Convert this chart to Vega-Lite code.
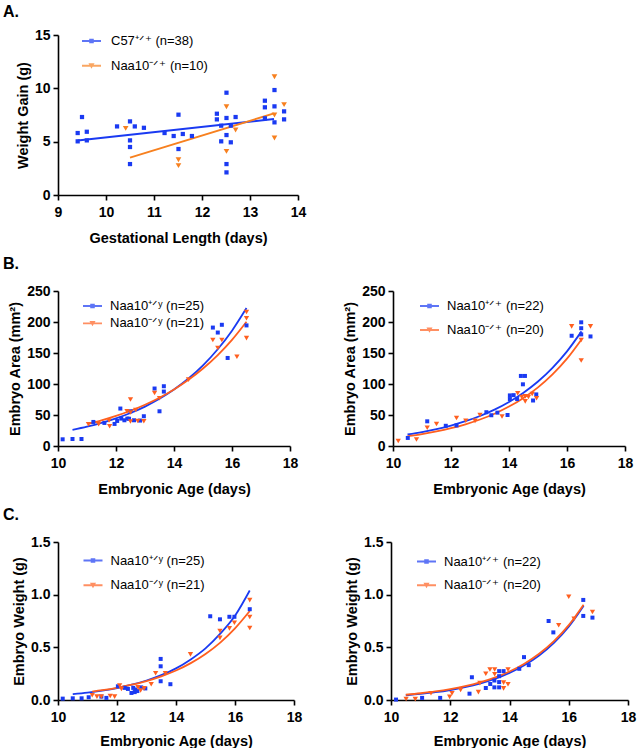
{
 "$schema": "https://vega.github.io/schema/vega-lite/v6.json",
 "background": "white",
 "padding": {"left": 3, "top": 4, "right": 2, "bottom": 0},
 "config": {
  "view": {"stroke": null},
  "font": "Liberation Sans",
  "axis": {"labelFont": "Liberation Sans", "labelFontSize": 14, "labelFontWeight": "bold", "labelColor": "#000", "titleFont": "Liberation Sans", "titleFontSize": 14.5, "titleFontWeight": "bold", "titleColor": "#000", "domainColor": "#000", "domainWidth": 1.6, "tickColor": "#000", "tickWidth": 1.6, "tickSize": 5, "labelPadding": 3, "titlePadding": 4, "grid": false, "labelFlush": false, "labelOverlap": false},
  "axisX": {"labelPadding": 5, "titlePadding": 12},
  "legend": {"labelFont": "Liberation Sans", "labelFontSize": 13, "labelColor": "#000", "padding": 0, "symbolStrokeWidth": 0, "symbolSize": 361, "labelLimit": 300},
  "title": {"font": "Liberation Sans", "fontSize": 16, "fontWeight": "bold", "color": "#000", "anchor": "start", "frame": "group", "dx": -55, "offset": 8}
 },
 "resolve": {"scale": {"color": "independent", "shape": "independent"}},
 "spacing": 11,
 "vconcat": [
  {
   "title": {"text": "A."},
   "width": 240, "height": 160,
   "encoding": {
    "x": {"field": "x", "type": "quantitative", "scale": {"domain": [9, 14], "nice": false, "zero": false}, "axis": {"values": [9, 10, 11, 12, 13, 14], "title": "Gestational Length (days)"}},
    "y": {"field": "y", "type": "quantitative", "scale": {"domain": [0, 15], "nice": false}, "axis": {"values": [0, 5, 10, 15], "title": "Weight Gain (g)"}}
   },
   "layer": [
    {"data": {"name": "Afit"}, "transform": [{"filter": {"field": "g", "equal": "C57⁺ᐟ⁺ (n=38)"}}], "mark": {"type": "line", "color": "#1a3af2", "strokeWidth": 2}},
    {"data": {"name": "Afit"}, "transform": [{"filter": {"field": "g", "equal": "Naa10⁻ᐟ⁺ (n=10)"}}], "mark": {"type": "line", "color": "#f7801f", "strokeWidth": 2}},
    {"data": {"name": "A"}, "transform": [{"filter": {"field": "g", "equal": "C57⁺ᐟ⁺ (n=38)"}}], "mark": {"type": "point", "shape": "square", "filled": true, "size": 18, "color": "#1a3af2", "opacity": 1}},
    {"data": {"name": "A"}, "transform": [{"filter": {"field": "g", "equal": "Naa10⁻ᐟ⁺ (n=10)"}}], "mark": {"type": "point", "shape": "triangle-down", "filled": true, "size": 32, "color": "#f7801f", "opacity": 1}},
    {"data": {"name": "A"}, "transform": [{"filter": "false"}], "mark": {"type": "point", "filled": true},
     "encoding": {
      "color": {"field": "g", "type": "nominal", "scale": {"domain": ["C57⁺ᐟ⁺ (n=38)", "Naa10⁻ᐟ⁺ (n=10)"], "range": ["#1a3af2", "#f7801f"]}, "legend": {"orient": "none", "legendX": 24, "legendY": -3.5, "title": null, "rowPadding": 7.8, "labelOffset": 10}},
      "shape": {"field": "g", "type": "nominal", "scale": {"domain": ["C57⁺ᐟ⁺ (n=38)", "Naa10⁻ᐟ⁺ (n=10)"], "range": ["M-1,-0.1H1V0.1H-1Z M-0.24,-0.24H0.24V0.24H-0.24Z", "M-1,-0.1H1V0.1H-1Z M-0.32,-0.26H0.32L0,0.3Z"]}, "legend": {"orient": "none", "legendX": 24, "legendY": -3.5, "title": null, "rowPadding": 7.8, "labelOffset": 10}}
     }}
   ]
  },
  {
   "title": {"text": "B.", "offset": 12},
   "resolve": {"scale": {"color": "independent", "shape": "independent"}},
   "spacing": 44,
   "hconcat": [
    {
     "width": 232, "height": 155,
     "encoding": {
      "x": {"field": "x", "type": "quantitative", "scale": {"domain": [10, 18], "nice": false, "zero": false}, "axis": {"values": [10, 12, 14, 16, 18], "title": "Embryonic Age (days)"}},
      "y": {"field": "y", "type": "quantitative", "scale": {"domain": [0, 250], "nice": false}, "axis": {"values": [0, 50, 100, 150, 200, 250], "title": "Embryo Area (mm²)"}}
     },
     "layer": [
      {"data": {"name": "BLfit"}, "transform": [{"filter": {"field": "g", "equal": "Naa10⁺ᐟʸ (n=25)"}}], "mark": {"type": "line", "color": "#1a3af2", "strokeWidth": 1.8, "interpolate": "monotone"}},
      {"data": {"name": "BLfit"}, "transform": [{"filter": {"field": "g", "equal": "Naa10⁻ᐟʸ (n=21)"}}], "mark": {"type": "line", "color": "#ff5f1f", "strokeWidth": 1.8, "interpolate": "monotone"}},
      {"data": {"name": "BL"}, "transform": [{"filter": {"field": "g", "equal": "Naa10⁺ᐟʸ (n=25)"}}], "mark": {"type": "point", "shape": "square", "filled": true, "size": 16, "color": "#1a3af2", "opacity": 1}},
      {"data": {"name": "BL"}, "transform": [{"filter": {"field": "g", "equal": "Naa10⁻ᐟʸ (n=21)"}}], "mark": {"type": "point", "shape": "triangle-down", "filled": true, "size": 28, "color": "#ff5f1f", "opacity": 1}},
      {"data": {"name": "BL"}, "transform": [{"filter": "false"}], "mark": {"type": "point", "filled": true},
       "encoding": {
        "color": {"field": "g", "type": "nominal", "scale": {"domain": ["Naa10⁺ᐟʸ (n=25)", "Naa10⁻ᐟʸ (n=21)"], "range": ["#1a3af2", "#ff5f1f"]}, "legend": {"orient": "none", "legendX": 25, "legendY": 5.5, "title": null, "rowPadding": 0.4, "labelOffset": 8}},
        "shape": {"field": "g", "type": "nominal", "scale": {"domain": ["Naa10⁺ᐟʸ (n=25)", "Naa10⁻ᐟʸ (n=21)"], "range": ["M-1,-0.1H1V0.1H-1Z M-0.24,-0.24H0.24V0.24H-0.24Z", "M-1,-0.1H1V0.1H-1Z M-0.32,-0.26H0.32L0,0.3Z"]}, "legend": {"orient": "none", "legendX": 25, "legendY": 5.5, "title": null, "rowPadding": 0.4, "labelOffset": 8}}
       }}
     ]
    },
    {
     "width": 232, "height": 155,
     "encoding": {
      "x": {"field": "x", "type": "quantitative", "scale": {"domain": [10, 18], "nice": false, "zero": false}, "axis": {"values": [10, 12, 14, 16, 18], "title": "Embryonic Age (days)"}},
      "y": {"field": "y", "type": "quantitative", "scale": {"domain": [0, 250], "nice": false}, "axis": {"values": [0, 50, 100, 150, 200, 250], "title": "Embryo Area (mm²)"}}
     },
     "layer": [
      {"data": {"name": "BRfit"}, "transform": [{"filter": {"field": "g", "equal": "Naa10⁺ᐟ⁺ (n=22)"}}], "mark": {"type": "line", "color": "#1a3af2", "strokeWidth": 1.8, "interpolate": "monotone"}},
      {"data": {"name": "BRfit"}, "transform": [{"filter": {"field": "g", "equal": "Naa10⁻ᐟ⁺ (n=20)"}}], "mark": {"type": "line", "color": "#ff5f1f", "strokeWidth": 1.8, "interpolate": "monotone"}},
      {"data": {"name": "BR"}, "transform": [{"filter": {"field": "g", "equal": "Naa10⁺ᐟ⁺ (n=22)"}}], "mark": {"type": "point", "shape": "square", "filled": true, "size": 16, "color": "#1a3af2", "opacity": 1}},
      {"data": {"name": "BR"}, "transform": [{"filter": {"field": "g", "equal": "Naa10⁻ᐟ⁺ (n=20)"}}], "mark": {"type": "point", "shape": "triangle-down", "filled": true, "size": 28, "color": "#ff5f1f", "opacity": 1}},
      {"data": {"name": "BR"}, "transform": [{"filter": "false"}], "mark": {"type": "point", "filled": true},
       "encoding": {
        "color": {"field": "g", "type": "nominal", "scale": {"domain": ["Naa10⁺ᐟ⁺ (n=22)", "Naa10⁻ᐟ⁺ (n=20)"], "range": ["#1a3af2", "#ff5f1f"]}, "legend": {"orient": "none", "legendX": 27, "legendY": 5.5, "title": null, "rowPadding": 7, "labelOffset": 8}},
        "shape": {"field": "g", "type": "nominal", "scale": {"domain": ["Naa10⁺ᐟ⁺ (n=22)", "Naa10⁻ᐟ⁺ (n=20)"], "range": ["M-1,-0.1H1V0.1H-1Z M-0.24,-0.24H0.24V0.24H-0.24Z", "M-1,-0.1H1V0.1H-1Z M-0.32,-0.26H0.32L0,0.3Z"]}, "legend": {"orient": "none", "legendX": 27, "legendY": 5.5, "title": null, "rowPadding": 7, "labelOffset": 8}}
       }}
     ]
    }
   ]
  },
  {
   "title": {"text": "C.", "offset": 12},
   "resolve": {"scale": {"color": "independent", "shape": "independent"}},
   "spacing": 42,
   "hconcat": [
    {
     "width": 236, "height": 158,
     "encoding": {
      "x": {"field": "x", "type": "quantitative", "scale": {"domain": [10, 18], "nice": false, "zero": false}, "axis": {"values": [10, 12, 14, 16, 18], "title": "Embryonic Age (days)", "titlePadding": 10}},
      "y": {"field": "y", "type": "quantitative", "scale": {"domain": [0, 1.5], "nice": false}, "axis": {"values": [0, 0.5, 1, 1.5], "format": ".1f", "title": "Embryo Weight (g)"}}
     },
     "layer": [
      {"data": {"name": "CLfit"}, "transform": [{"filter": {"field": "g", "equal": "Naa10⁺ᐟʸ (n=25)"}}], "mark": {"type": "line", "color": "#1a3af2", "strokeWidth": 1.8, "interpolate": "monotone"}},
      {"data": {"name": "CLfit"}, "transform": [{"filter": {"field": "g", "equal": "Naa10⁻ᐟʸ (n=21)"}}], "mark": {"type": "line", "color": "#ff5f1f", "strokeWidth": 1.8, "interpolate": "monotone"}},
      {"data": {"name": "CL"}, "transform": [{"filter": {"field": "g", "equal": "Naa10⁺ᐟʸ (n=25)"}}], "mark": {"type": "point", "shape": "square", "filled": true, "size": 16, "color": "#1a3af2", "opacity": 1}},
      {"data": {"name": "CL"}, "transform": [{"filter": {"field": "g", "equal": "Naa10⁻ᐟʸ (n=21)"}}], "mark": {"type": "point", "shape": "triangle-down", "filled": true, "size": 28, "color": "#ff5f1f", "opacity": 1}},
      {"data": {"name": "CL"}, "transform": [{"filter": "false"}], "mark": {"type": "point", "filled": true},
       "encoding": {
        "color": {"field": "g", "type": "nominal", "scale": {"domain": ["Naa10⁺ᐟʸ (n=25)", "Naa10⁻ᐟʸ (n=21)"], "range": ["#1a3af2", "#ff5f1f"]}, "legend": {"orient": "none", "legendX": 25.5, "legendY": 9, "title": null, "rowPadding": 7.8, "labelOffset": 8}},
        "shape": {"field": "g", "type": "nominal", "scale": {"domain": ["Naa10⁺ᐟʸ (n=25)", "Naa10⁻ᐟʸ (n=21)"], "range": ["M-1,-0.1H1V0.1H-1Z M-0.24,-0.24H0.24V0.24H-0.24Z", "M-1,-0.1H1V0.1H-1Z M-0.32,-0.26H0.32L0,0.3Z"]}, "legend": {"orient": "none", "legendX": 25.5, "legendY": 9, "title": null, "rowPadding": 7.8, "labelOffset": 8}}
       }}
     ]
    },
    {
     "width": 237, "height": 158,
     "encoding": {
      "x": {"field": "x", "type": "quantitative", "scale": {"domain": [10, 18], "nice": false, "zero": false}, "axis": {"values": [10, 12, 14, 16, 18], "title": "Embryonic Age (days)", "titlePadding": 10}},
      "y": {"field": "y", "type": "quantitative", "scale": {"domain": [0, 1.5], "nice": false}, "axis": {"values": [0, 0.5, 1, 1.5], "format": ".1f", "title": "Embryo Weight (g)"}}
     },
     "layer": [
      {"data": {"name": "CRfit"}, "transform": [{"filter": {"field": "g", "equal": "Naa10⁺ᐟ⁺ (n=22)"}}], "mark": {"type": "line", "color": "#1a3af2", "strokeWidth": 1.8, "interpolate": "monotone"}},
      {"data": {"name": "CRfit"}, "transform": [{"filter": {"field": "g", "equal": "Naa10⁻ᐟ⁺ (n=20)"}}], "mark": {"type": "line", "color": "#ff5f1f", "strokeWidth": 1.8, "interpolate": "monotone"}},
      {"data": {"name": "CR"}, "transform": [{"filter": {"field": "g", "equal": "Naa10⁺ᐟ⁺ (n=22)"}}], "mark": {"type": "point", "shape": "square", "filled": true, "size": 16, "color": "#1a3af2", "opacity": 1}},
      {"data": {"name": "CR"}, "transform": [{"filter": {"field": "g", "equal": "Naa10⁻ᐟ⁺ (n=20)"}}], "mark": {"type": "point", "shape": "triangle-down", "filled": true, "size": 28, "color": "#ff5f1f", "opacity": 1}},
      {"data": {"name": "CR"}, "transform": [{"filter": "false"}], "mark": {"type": "point", "filled": true},
       "encoding": {
        "color": {"field": "g", "type": "nominal", "scale": {"domain": ["Naa10⁺ᐟ⁺ (n=22)", "Naa10⁻ᐟ⁺ (n=20)"], "range": ["#1a3af2", "#ff5f1f"]}, "legend": {"orient": "none", "legendX": 26, "legendY": 10, "title": null, "rowPadding": 6.8, "labelOffset": 8}},
        "shape": {"field": "g", "type": "nominal", "scale": {"domain": ["Naa10⁺ᐟ⁺ (n=22)", "Naa10⁻ᐟ⁺ (n=20)"], "range": ["M-1,-0.1H1V0.1H-1Z M-0.24,-0.24H0.24V0.24H-0.24Z", "M-1,-0.1H1V0.1H-1Z M-0.32,-0.26H0.32L0,0.3Z"]}, "legend": {"orient": "none", "legendX": 26, "legendY": 10, "title": null, "rowPadding": 6.8, "labelOffset": 8}}
       }}
     ]
    }
   ]
  }
 ],
 "datasets": {
  "A": [
   {"x": 9.41, "y": 5.81, "g": "C57⁺ᐟ⁺ (n=38)"}, {"x": 9.41, "y": 5.03, "g": "C57⁺ᐟ⁺ (n=38)"}, {"x": 9.5, "y": 7.31, "g": "C57⁺ᐟ⁺ (n=38)"}, {"x": 9.6, "y": 5.93, "g": "C57⁺ᐟ⁺ (n=38)"}, {"x": 9.6, "y": 5.12, "g": "C57⁺ᐟ⁺ (n=38)"},
   {"x": 10.23, "y": 6.43, "g": "C57⁺ᐟ⁺ (n=38)"}, {"x": 10.5, "y": 6.9, "g": "C57⁺ᐟ⁺ (n=38)"}, {"x": 10.5, "y": 5.12, "g": "C57⁺ᐟ⁺ (n=38)"}, {"x": 10.5, "y": 4.5, "g": "C57⁺ᐟ⁺ (n=38)"}, {"x": 10.5, "y": 2.9, "g": "C57⁺ᐟ⁺ (n=38)"}, {"x": 10.6, "y": 6.43, "g": "C57⁺ᐟ⁺ (n=38)"}, {"x": 10.79, "y": 6.3, "g": "C57⁺ᐟ⁺ (n=38)"},
   {"x": 11.22, "y": 5.81, "g": "C57⁺ᐟ⁺ (n=38)"}, {"x": 11.41, "y": 5.53, "g": "C57⁺ᐟ⁺ (n=38)"}, {"x": 11.51, "y": 7.53, "g": "C57⁺ᐟ⁺ (n=38)"}, {"x": 11.51, "y": 4.31, "g": "C57⁺ᐟ⁺ (n=38)"}, {"x": 11.6, "y": 5.72, "g": "C57⁺ᐟ⁺ (n=38)"}, {"x": 11.79, "y": 5.53, "g": "C57⁺ᐟ⁺ (n=38)"},
   {"x": 12.31, "y": 7.62, "g": "C57⁺ᐟ⁺ (n=38)"}, {"x": 12.31, "y": 7.09, "g": "C57⁺ᐟ⁺ (n=38)"}, {"x": 12.4, "y": 6.5, "g": "C57⁺ᐟ⁺ (n=38)"}, {"x": 12.4, "y": 5.03, "g": "C57⁺ᐟ⁺ (n=38)"}, {"x": 12.51, "y": 9.59, "g": "C57⁺ᐟ⁺ (n=38)"}, {"x": 12.51, "y": 7.22, "g": "C57⁺ᐟ⁺ (n=38)"}, {"x": 12.51, "y": 5.62, "g": "C57⁺ᐟ⁺ (n=38)"}, {"x": 12.51, "y": 2.9, "g": "C57⁺ᐟ⁺ (n=38)"}, {"x": 12.51, "y": 2.12, "g": "C57⁺ᐟ⁺ (n=38)"}, {"x": 12.6, "y": 6.5, "g": "C57⁺ᐟ⁺ (n=38)"}, {"x": 12.6, "y": 4.94, "g": "C57⁺ᐟ⁺ (n=38)"}, {"x": 12.7, "y": 7.31, "g": "C57⁺ᐟ⁺ (n=38)"},
   {"x": 13.31, "y": 8.84, "g": "C57⁺ᐟ⁺ (n=38)"}, {"x": 13.31, "y": 8.22, "g": "C57⁺ᐟ⁺ (n=38)"}, {"x": 13.31, "y": 7.19, "g": "C57⁺ᐟ⁺ (n=38)"}, {"x": 13.51, "y": 9.84, "g": "C57⁺ᐟ⁺ (n=38)"}, {"x": 13.51, "y": 8.31, "g": "C57⁺ᐟ⁺ (n=38)"}, {"x": 13.51, "y": 6.81, "g": "C57⁺ᐟ⁺ (n=38)"}, {"x": 13.71, "y": 7.84, "g": "C57⁺ᐟ⁺ (n=38)"}, {"x": 13.71, "y": 7.09, "g": "C57⁺ᐟ⁺ (n=38)"},
   {"x": 10.41, "y": 6.25, "g": "Naa10⁻ᐟ⁺ (n=10)"}, {"x": 11.51, "y": 3.31, "g": "Naa10⁻ᐟ⁺ (n=10)"}, {"x": 11.51, "y": 2.75, "g": "Naa10⁻ᐟ⁺ (n=10)"}, {"x": 12.51, "y": 8.28, "g": "Naa10⁻ᐟ⁺ (n=10)"}, {"x": 12.51, "y": 4.09, "g": "Naa10⁻ᐟ⁺ (n=10)"}, {"x": 12.7, "y": 6.09, "g": "Naa10⁻ᐟ⁺ (n=10)"}, {"x": 13.51, "y": 11.09, "g": "Naa10⁻ᐟ⁺ (n=10)"}, {"x": 13.51, "y": 7.5, "g": "Naa10⁻ᐟ⁺ (n=10)"}, {"x": 13.51, "y": 5.34, "g": "Naa10⁻ᐟ⁺ (n=10)"}, {"x": 13.71, "y": 8.47, "g": "Naa10⁻ᐟ⁺ (n=10)"}
  ],
  "Afit": [
   {"x": 9.41, "y": 5.12, "g": "C57⁺ᐟ⁺ (n=38)"}, {"x": 13.5, "y": 7.12, "g": "C57⁺ᐟ⁺ (n=38)"},
   {"x": 10.5, "y": 3.5, "g": "Naa10⁻ᐟ⁺ (n=10)"}, {"x": 13.5, "y": 7.65, "g": "Naa10⁻ᐟ⁺ (n=10)"}
  ],
  "BL": [
   {"x": 10.16, "y": 10.8, "g": "Naa10⁺ᐟʸ (n=25)"}, {"x": 10.5, "y": 11.3, "g": "Naa10⁺ᐟʸ (n=25)"}, {"x": 10.81, "y": 11.3, "g": "Naa10⁺ᐟʸ (n=25)"}, {"x": 11.22, "y": 38.8, "g": "Naa10⁺ᐟʸ (n=25)"}, {"x": 11.6, "y": 37.2, "g": "Naa10⁺ᐟʸ (n=25)"}, {"x": 11.95, "y": 35.6, "g": "Naa10⁺ᐟʸ (n=25)"}, {"x": 12.04, "y": 40.4, "g": "Naa10⁺ᐟʸ (n=25)"}, {"x": 12.15, "y": 60.4, "g": "Naa10⁺ᐟʸ (n=25)"}, {"x": 12.18, "y": 44.2, "g": "Naa10⁺ᐟʸ (n=25)"}, {"x": 12.29, "y": 41.5, "g": "Naa10⁺ᐟʸ (n=25)"}, {"x": 12.39, "y": 44.2, "g": "Naa10⁺ᐟʸ (n=25)"}, {"x": 12.45, "y": 44, "g": "Naa10⁺ᐟʸ (n=25)"}, {"x": 12.5, "y": 56, "g": "Naa10⁺ᐟʸ (n=25)"}, {"x": 12.62, "y": 41.5, "g": "Naa10⁺ᐟʸ (n=25)"}, {"x": 12.83, "y": 41, "g": "Naa10⁺ᐟʸ (n=25)"}, {"x": 12.96, "y": 48, "g": "Naa10⁺ᐟʸ (n=25)"}, {"x": 13.33, "y": 92.7, "g": "Naa10⁺ᐟʸ (n=25)"}, {"x": 13.5, "y": 56, "g": "Naa10⁺ᐟʸ (n=25)"}, {"x": 13.65, "y": 96.4, "g": "Naa10⁺ᐟʸ (n=25)"}, {"x": 13.65, "y": 87.8, "g": "Naa10⁺ᐟʸ (n=25)"}, {"x": 15.34, "y": 191, "g": "Naa10⁺ᐟʸ (n=25)"}, {"x": 15.51, "y": 183, "g": "Naa10⁺ᐟʸ (n=25)"}, {"x": 15.65, "y": 195.5, "g": "Naa10⁺ᐟʸ (n=25)"}, {"x": 15.85, "y": 142, "g": "Naa10⁺ᐟʸ (n=25)"}, {"x": 16.5, "y": 194.5, "g": "Naa10⁺ᐟʸ (n=25)"},
   {"x": 11.05, "y": 35, "g": "Naa10⁻ᐟʸ (n=21)"}, {"x": 11.4, "y": 35, "g": "Naa10⁻ᐟʸ (n=21)"}, {"x": 11.76, "y": 41, "g": "Naa10⁻ᐟʸ (n=21)"}, {"x": 11.78, "y": 31.8, "g": "Naa10⁻ᐟʸ (n=21)"}, {"x": 12.38, "y": 56, "g": "Naa10⁻ᐟʸ (n=21)"}, {"x": 12.5, "y": 75, "g": "Naa10⁻ᐟʸ (n=21)"}, {"x": 12.5, "y": 54, "g": "Naa10⁻ᐟʸ (n=21)"}, {"x": 12.5, "y": 39.4, "g": "Naa10⁻ᐟʸ (n=21)"}, {"x": 12.68, "y": 58, "g": "Naa10⁻ᐟʸ (n=21)"}, {"x": 12.75, "y": 40.4, "g": "Naa10⁻ᐟʸ (n=21)"}, {"x": 12.96, "y": 40, "g": "Naa10⁻ᐟʸ (n=21)"}, {"x": 13.33, "y": 85.6, "g": "Naa10⁻ᐟʸ (n=21)"}, {"x": 13.5, "y": 77, "g": "Naa10⁻ᐟʸ (n=21)"}, {"x": 14.5, "y": 107, "g": "Naa10⁻ᐟʸ (n=21)"}, {"x": 15.34, "y": 171, "g": "Naa10⁻ᐟʸ (n=21)"}, {"x": 15.51, "y": 158, "g": "Naa10⁻ᐟʸ (n=21)"}, {"x": 15.65, "y": 171, "g": "Naa10⁻ᐟʸ (n=21)"}, {"x": 16.17, "y": 144, "g": "Naa10⁻ᐟʸ (n=21)"}, {"x": 16.5, "y": 216, "g": "Naa10⁻ᐟʸ (n=21)"}, {"x": 16.5, "y": 206, "g": "Naa10⁻ᐟʸ (n=21)"}, {"x": 16.5, "y": 174, "g": "Naa10⁻ᐟʸ (n=21)"}
  ],
  "BLfit": [
   {"x": 10.5, "y": 26, "g": "Naa10⁺ᐟʸ (n=25)"}, {"x": 11, "y": 31.1, "g": "Naa10⁺ᐟʸ (n=25)"}, {"x": 11.5, "y": 37.2, "g": "Naa10⁺ᐟʸ (n=25)"}, {"x": 12, "y": 44.5, "g": "Naa10⁺ᐟʸ (n=25)"}, {"x": 12.5, "y": 53.2, "g": "Naa10⁺ᐟʸ (n=25)"}, {"x": 13, "y": 63.6, "g": "Naa10⁺ᐟʸ (n=25)"}, {"x": 13.5, "y": 76.1, "g": "Naa10⁺ᐟʸ (n=25)"}, {"x": 14, "y": 91, "g": "Naa10⁺ᐟʸ (n=25)"}, {"x": 14.5, "y": 108.8, "g": "Naa10⁺ᐟʸ (n=25)"}, {"x": 15, "y": 130, "g": "Naa10⁺ᐟʸ (n=25)"}, {"x": 15.5, "y": 155.6, "g": "Naa10⁺ᐟʸ (n=25)"}, {"x": 16, "y": 186, "g": "Naa10⁺ᐟʸ (n=25)"}, {"x": 16.5, "y": 222.5, "g": "Naa10⁺ᐟʸ (n=25)"},
   {"x": 11.05, "y": 36, "g": "Naa10⁻ᐟʸ (n=21)"}, {"x": 11.5, "y": 41.5, "g": "Naa10⁻ᐟʸ (n=21)"}, {"x": 12, "y": 48.6, "g": "Naa10⁻ᐟʸ (n=21)"}, {"x": 12.5, "y": 56.9, "g": "Naa10⁻ᐟʸ (n=21)"}, {"x": 13, "y": 66.6, "g": "Naa10⁻ᐟʸ (n=21)"}, {"x": 13.5, "y": 77.9, "g": "Naa10⁻ᐟʸ (n=21)"}, {"x": 14, "y": 91.2, "g": "Naa10⁻ᐟʸ (n=21)"}, {"x": 14.5, "y": 106.8, "g": "Naa10⁻ᐟʸ (n=21)"}, {"x": 15, "y": 125, "g": "Naa10⁻ᐟʸ (n=21)"}, {"x": 15.5, "y": 146.3, "g": "Naa10⁻ᐟʸ (n=21)"}, {"x": 16, "y": 171.3, "g": "Naa10⁻ᐟʸ (n=21)"}, {"x": 16.5, "y": 200.5, "g": "Naa10⁻ᐟʸ (n=21)"}
  ],
  "BR": [
   {"x": 10.51, "y": 13, "g": "Naa10⁺ᐟ⁺ (n=22)"}, {"x": 11.18, "y": 39.8, "g": "Naa10⁺ᐟ⁺ (n=22)"}, {"x": 11.82, "y": 32.6, "g": "Naa10⁺ᐟ⁺ (n=22)"}, {"x": 12.19, "y": 33.2, "g": "Naa10⁺ᐟ⁺ (n=22)"}, {"x": 13.22, "y": 54.5, "g": "Naa10⁺ᐟ⁺ (n=22)"}, {"x": 13.39, "y": 49.6, "g": "Naa10⁺ᐟ⁺ (n=22)"}, {"x": 13.6, "y": 53.8, "g": "Naa10⁺ᐟ⁺ (n=22)"}, {"x": 13.95, "y": 50, "g": "Naa10⁺ᐟ⁺ (n=22)"}, {"x": 14.03, "y": 75.7, "g": "Naa10⁺ᐟ⁺ (n=22)"}, {"x": 14.03, "y": 81.6, "g": "Naa10⁺ᐟ⁺ (n=22)"}, {"x": 14.16, "y": 82, "g": "Naa10⁺ᐟ⁺ (n=22)"}, {"x": 14.28, "y": 75.7, "g": "Naa10⁺ᐟ⁺ (n=22)"}, {"x": 14.41, "y": 113, "g": "Naa10⁺ᐟ⁺ (n=22)"}, {"x": 14.55, "y": 113, "g": "Naa10⁺ᐟ⁺ (n=22)"}, {"x": 14.48, "y": 99.5, "g": "Naa10⁺ᐟ⁺ (n=22)"}, {"x": 14.83, "y": 73.4, "g": "Naa10⁺ᐟ⁺ (n=22)"}, {"x": 14.94, "y": 83.2, "g": "Naa10⁺ᐟ⁺ (n=22)"}, {"x": 16.16, "y": 177.8, "g": "Naa10⁺ᐟ⁺ (n=22)"}, {"x": 16.49, "y": 199.5, "g": "Naa10⁺ᐟ⁺ (n=22)"}, {"x": 16.49, "y": 190, "g": "Naa10⁺ᐟ⁺ (n=22)"}, {"x": 16.49, "y": 180, "g": "Naa10⁺ᐟ⁺ (n=22)"}, {"x": 16.81, "y": 176.7, "g": "Naa10⁺ᐟ⁺ (n=22)"},
   {"x": 10.18, "y": 8.2, "g": "Naa10⁻ᐟ⁺ (n=20)"}, {"x": 10.81, "y": 10.4, "g": "Naa10⁻ᐟ⁺ (n=20)"}, {"x": 11.18, "y": 29.4, "g": "Naa10⁻ᐟ⁺ (n=20)"}, {"x": 11.5, "y": 35.4, "g": "Naa10⁻ᐟ⁺ (n=20)"}, {"x": 12.19, "y": 45.2, "g": "Naa10⁻ᐟ⁺ (n=20)"}, {"x": 12.51, "y": 40.8, "g": "Naa10⁻ᐟ⁺ (n=20)"}, {"x": 12.83, "y": 40.5, "g": "Naa10⁻ᐟ⁺ (n=20)"}, {"x": 13.0, "y": 50, "g": "Naa10⁻ᐟ⁺ (n=20)"}, {"x": 13.76, "y": 47.5, "g": "Naa10⁻ᐟ⁺ (n=20)"}, {"x": 14.3, "y": 85, "g": "Naa10⁻ᐟ⁺ (n=20)"}, {"x": 14.44, "y": 79, "g": "Naa10⁻ᐟ⁺ (n=20)"}, {"x": 14.56, "y": 80, "g": "Naa10⁻ᐟ⁺ (n=20)"}, {"x": 14.56, "y": 72, "g": "Naa10⁻ᐟ⁺ (n=20)"}, {"x": 14.67, "y": 79, "g": "Naa10⁻ᐟ⁺ (n=20)"}, {"x": 14.8, "y": 84, "g": "Naa10⁻ᐟ⁺ (n=20)"}, {"x": 14.95, "y": 77, "g": "Naa10⁻ᐟ⁺ (n=20)"}, {"x": 16.16, "y": 193, "g": "Naa10⁻ᐟ⁺ (n=20)"}, {"x": 16.81, "y": 193, "g": "Naa10⁻ᐟ⁺ (n=20)"}, {"x": 16.49, "y": 171, "g": "Naa10⁻ᐟ⁺ (n=20)"}, {"x": 16.49, "y": 138, "g": "Naa10⁻ᐟ⁺ (n=20)"}
  ],
  "BRfit": [
   {"x": 10.5, "y": 18.6, "g": "Naa10⁺ᐟ⁺ (n=22)"}, {"x": 11, "y": 22.5, "g": "Naa10⁺ᐟ⁺ (n=22)"}, {"x": 11.5, "y": 27.3, "g": "Naa10⁺ᐟ⁺ (n=22)"}, {"x": 12, "y": 33, "g": "Naa10⁺ᐟ⁺ (n=22)"}, {"x": 12.5, "y": 40, "g": "Naa10⁺ᐟ⁺ (n=22)"}, {"x": 13, "y": 48.4, "g": "Naa10⁺ᐟ⁺ (n=22)"}, {"x": 13.5, "y": 58.6, "g": "Naa10⁺ᐟ⁺ (n=22)"}, {"x": 14, "y": 71, "g": "Naa10⁺ᐟ⁺ (n=22)"}, {"x": 14.5, "y": 86, "g": "Naa10⁺ᐟ⁺ (n=22)"}, {"x": 15, "y": 104.1, "g": "Naa10⁺ᐟ⁺ (n=22)"}, {"x": 15.5, "y": 126.1, "g": "Naa10⁺ᐟ⁺ (n=22)"}, {"x": 16, "y": 152.7, "g": "Naa10⁺ᐟ⁺ (n=22)"}, {"x": 16.5, "y": 184.9, "g": "Naa10⁺ᐟ⁺ (n=22)"},
   {"x": 10.5, "y": 15.8, "g": "Naa10⁻ᐟ⁺ (n=20)"}, {"x": 11, "y": 19.3, "g": "Naa10⁻ᐟ⁺ (n=20)"}, {"x": 11.5, "y": 23.5, "g": "Naa10⁻ᐟ⁺ (n=20)"}, {"x": 12, "y": 28.7, "g": "Naa10⁻ᐟ⁺ (n=20)"}, {"x": 12.5, "y": 35, "g": "Naa10⁻ᐟ⁺ (n=20)"}, {"x": 13, "y": 42.7, "g": "Naa10⁻ᐟ⁺ (n=20)"}, {"x": 13.5, "y": 52.1, "g": "Naa10⁻ᐟ⁺ (n=20)"}, {"x": 14, "y": 63.6, "g": "Naa10⁻ᐟ⁺ (n=20)"}, {"x": 14.5, "y": 77.6, "g": "Naa10⁻ᐟ⁺ (n=20)"}, {"x": 15, "y": 94.6, "g": "Naa10⁻ᐟ⁺ (n=20)"}, {"x": 15.5, "y": 115.5, "g": "Naa10⁻ᐟ⁺ (n=20)"}, {"x": 16, "y": 140.9, "g": "Naa10⁻ᐟ⁺ (n=20)"}, {"x": 16.5, "y": 171.9, "g": "Naa10⁻ᐟ⁺ (n=20)"}
  ],
  "CL": [
   {"x": 10.16, "y": 0.013, "g": "Naa10⁺ᐟʸ (n=25)"}, {"x": 10.5, "y": 0.016, "g": "Naa10⁺ᐟʸ (n=25)"}, {"x": 10.8, "y": 0.016, "g": "Naa10⁺ᐟʸ (n=25)"}, {"x": 11.04, "y": 0.026, "g": "Naa10⁺ᐟʸ (n=25)"}, {"x": 11.47, "y": 0.032, "g": "Naa10⁺ᐟʸ (n=25)"}, {"x": 11.64, "y": 0.02, "g": "Naa10⁺ᐟʸ (n=25)"}, {"x": 12.03, "y": 0.13, "g": "Naa10⁺ᐟʸ (n=25)"}, {"x": 12.26, "y": 0.115, "g": "Naa10⁺ᐟʸ (n=25)"}, {"x": 12.37, "y": 0.105, "g": "Naa10⁺ᐟʸ (n=25)"}, {"x": 12.49, "y": 0.067, "g": "Naa10⁺ᐟʸ (n=25)"}, {"x": 12.55, "y": 0.115, "g": "Naa10⁺ᐟʸ (n=25)"}, {"x": 12.62, "y": 0.1, "g": "Naa10⁺ᐟʸ (n=25)"}, {"x": 12.6, "y": 0.075, "g": "Naa10⁺ᐟʸ (n=25)"}, {"x": 12.69, "y": 0.085, "g": "Naa10⁺ᐟʸ (n=25)"}, {"x": 12.82, "y": 0.12, "g": "Naa10⁺ᐟʸ (n=25)"}, {"x": 12.96, "y": 0.11, "g": "Naa10⁺ᐟʸ (n=25)"}, {"x": 13.48, "y": 0.39, "g": "Naa10⁺ᐟʸ (n=25)"}, {"x": 13.48, "y": 0.32, "g": "Naa10⁺ᐟʸ (n=25)"}, {"x": 13.48, "y": 0.178, "g": "Naa10⁺ᐟʸ (n=25)"}, {"x": 13.81, "y": 0.15, "g": "Naa10⁺ᐟʸ (n=25)"}, {"x": 15.16, "y": 0.795, "g": "Naa10⁺ᐟʸ (n=25)"}, {"x": 15.49, "y": 0.766, "g": "Naa10⁺ᐟʸ (n=25)"}, {"x": 15.81, "y": 0.79, "g": "Naa10⁺ᐟʸ (n=25)"}, {"x": 15.98, "y": 0.79, "g": "Naa10⁺ᐟʸ (n=25)"}, {"x": 16.5, "y": 0.862, "g": "Naa10⁺ᐟʸ (n=25)"},
   {"x": 11.16, "y": 0.045, "g": "Naa10⁻ᐟʸ (n=21)"}, {"x": 11.32, "y": 0.032, "g": "Naa10⁻ᐟʸ (n=21)"}, {"x": 11.47, "y": 0.032, "g": "Naa10⁻ᐟʸ (n=21)"}, {"x": 11.77, "y": 0.038, "g": "Naa10⁻ᐟʸ (n=21)"}, {"x": 11.92, "y": 0.032, "g": "Naa10⁻ᐟʸ (n=21)"}, {"x": 12.09, "y": 0.137, "g": "Naa10⁻ᐟʸ (n=21)"}, {"x": 12.15, "y": 0.105, "g": "Naa10⁻ᐟʸ (n=21)"}, {"x": 12.71, "y": 0.12, "g": "Naa10⁻ᐟʸ (n=21)"}, {"x": 12.8, "y": 0.09, "g": "Naa10⁻ᐟʸ (n=21)"}, {"x": 12.92, "y": 0.11, "g": "Naa10⁻ᐟʸ (n=21)"}, {"x": 13.16, "y": 0.15, "g": "Naa10⁻ᐟʸ (n=21)"}, {"x": 13.31, "y": 0.254, "g": "Naa10⁻ᐟʸ (n=21)"}, {"x": 13.64, "y": 0.254, "g": "Naa10⁻ᐟʸ (n=21)"}, {"x": 14.49, "y": 0.433, "g": "Naa10⁻ᐟʸ (n=21)"}, {"x": 15.49, "y": 0.655, "g": "Naa10⁻ᐟʸ (n=21)"}, {"x": 15.49, "y": 0.59, "g": "Naa10⁻ᐟʸ (n=21)"}, {"x": 15.81, "y": 0.68, "g": "Naa10⁻ᐟʸ (n=21)"}, {"x": 15.98, "y": 0.734, "g": "Naa10⁻ᐟʸ (n=21)"}, {"x": 16.5, "y": 0.948, "g": "Naa10⁻ᐟʸ (n=21)"}, {"x": 16.5, "y": 0.788, "g": "Naa10⁻ᐟʸ (n=21)"}, {"x": 16.5, "y": 0.683, "g": "Naa10⁻ᐟʸ (n=21)"}
  ],
  "CLfit": [
   {"x": 10.5, "y": 0.055, "g": "Naa10⁺ᐟʸ (n=25)"}, {"x": 11, "y": 0.07, "g": "Naa10⁺ᐟʸ (n=25)"}, {"x": 11.5, "y": 0.089, "g": "Naa10⁺ᐟʸ (n=25)"}, {"x": 12, "y": 0.113, "g": "Naa10⁺ᐟʸ (n=25)"}, {"x": 12.5, "y": 0.145, "g": "Naa10⁺ᐟʸ (n=25)"}, {"x": 13, "y": 0.185, "g": "Naa10⁺ᐟʸ (n=25)"}, {"x": 13.5, "y": 0.236, "g": "Naa10⁺ᐟʸ (n=25)"}, {"x": 14, "y": 0.3, "g": "Naa10⁺ᐟʸ (n=25)"}, {"x": 14.5, "y": 0.385, "g": "Naa10⁺ᐟʸ (n=25)"}, {"x": 15, "y": 0.49, "g": "Naa10⁺ᐟʸ (n=25)"}, {"x": 15.5, "y": 0.63, "g": "Naa10⁺ᐟʸ (n=25)"}, {"x": 16, "y": 0.8, "g": "Naa10⁺ᐟʸ (n=25)"}, {"x": 16.5, "y": 1.04, "g": "Naa10⁺ᐟʸ (n=25)"},
   {"x": 11.16, "y": 0.08, "g": "Naa10⁻ᐟʸ (n=21)"}, {"x": 11.5, "y": 0.093, "g": "Naa10⁻ᐟʸ (n=21)"}, {"x": 12, "y": 0.116, "g": "Naa10⁻ᐟʸ (n=21)"}, {"x": 12.5, "y": 0.145, "g": "Naa10⁻ᐟʸ (n=21)"}, {"x": 13, "y": 0.18, "g": "Naa10⁻ᐟʸ (n=21)"}, {"x": 13.5, "y": 0.225, "g": "Naa10⁻ᐟʸ (n=21)"}, {"x": 14, "y": 0.28, "g": "Naa10⁻ᐟʸ (n=21)"}, {"x": 14.5, "y": 0.35, "g": "Naa10⁻ᐟʸ (n=21)"}, {"x": 15, "y": 0.437, "g": "Naa10⁻ᐟʸ (n=21)"}, {"x": 15.5, "y": 0.545, "g": "Naa10⁻ᐟʸ (n=21)"}, {"x": 16, "y": 0.68, "g": "Naa10⁻ᐟʸ (n=21)"}, {"x": 16.5, "y": 0.845, "g": "Naa10⁻ᐟʸ (n=21)"}
  ],
  "CR": [
   {"x": 10.17, "y": 0.004, "g": "Naa10⁺ᐟ⁺ (n=22)"}, {"x": 11.05, "y": 0.02, "g": "Naa10⁺ᐟ⁺ (n=22)"}, {"x": 11.66, "y": 0.02, "g": "Naa10⁺ᐟ⁺ (n=22)"}, {"x": 12.65, "y": 0.06, "g": "Naa10⁺ᐟ⁺ (n=22)"}, {"x": 12.73, "y": 0.216, "g": "Naa10⁺ᐟ⁺ (n=22)"}, {"x": 13.2, "y": 0.114, "g": "Naa10⁺ᐟ⁺ (n=22)"}, {"x": 13.35, "y": 0.152, "g": "Naa10⁺ᐟ⁺ (n=22)"}, {"x": 13.49, "y": 0.185, "g": "Naa10⁺ᐟ⁺ (n=22)"}, {"x": 13.49, "y": 0.12, "g": "Naa10⁺ᐟ⁺ (n=22)"}, {"x": 13.65, "y": 0.274, "g": "Naa10⁺ᐟ⁺ (n=22)"}, {"x": 13.65, "y": 0.226, "g": "Naa10⁺ᐟ⁺ (n=22)"}, {"x": 13.65, "y": 0.17, "g": "Naa10⁺ᐟ⁺ (n=22)"}, {"x": 13.65, "y": 0.12, "g": "Naa10⁺ᐟ⁺ (n=22)"}, {"x": 13.8, "y": 0.274, "g": "Naa10⁺ᐟ⁺ (n=22)"}, {"x": 14.33, "y": 0.296, "g": "Naa10⁺ᐟ⁺ (n=22)"}, {"x": 14.49, "y": 0.407, "g": "Naa10⁺ᐟ⁺ (n=22)"}, {"x": 14.65, "y": 0.331, "g": "Naa10⁺ᐟ⁺ (n=22)"}, {"x": 15.32, "y": 0.75, "g": "Naa10⁺ᐟ⁺ (n=22)"}, {"x": 15.48, "y": 0.642, "g": "Naa10⁺ᐟ⁺ (n=22)"}, {"x": 16.49, "y": 0.95, "g": "Naa10⁺ᐟ⁺ (n=22)"}, {"x": 16.49, "y": 0.798, "g": "Naa10⁺ᐟ⁺ (n=22)"}, {"x": 16.8, "y": 0.782, "g": "Naa10⁺ᐟ⁺ (n=22)"},
   {"x": 10.51, "y": 0.01, "g": "Naa10⁻ᐟ⁺ (n=20)"}, {"x": 10.82, "y": 0.008, "g": "Naa10⁻ᐟ⁺ (n=20)"}, {"x": 11.35, "y": 0.064, "g": "Naa10⁻ᐟ⁺ (n=20)"}, {"x": 11.98, "y": 0.03, "g": "Naa10⁻ᐟ⁺ (n=20)"}, {"x": 12.06, "y": 0.064, "g": "Naa10⁻ᐟ⁺ (n=20)"}, {"x": 12.35, "y": 0.095, "g": "Naa10⁻ᐟ⁺ (n=20)"}, {"x": 12.95, "y": 0.075, "g": "Naa10⁻ᐟ⁺ (n=20)"}, {"x": 13.0, "y": 0.16, "g": "Naa10⁻ᐟ⁺ (n=20)"}, {"x": 13.2, "y": 0.25, "g": "Naa10⁻ᐟ⁺ (n=20)"}, {"x": 13.34, "y": 0.29, "g": "Naa10⁻ᐟ⁺ (n=20)"}, {"x": 13.5, "y": 0.29, "g": "Naa10⁻ᐟ⁺ (n=20)"}, {"x": 13.5, "y": 0.245, "g": "Naa10⁻ᐟ⁺ (n=20)"}, {"x": 13.8, "y": 0.165, "g": "Naa10⁻ᐟ⁺ (n=20)"}, {"x": 13.8, "y": 0.11, "g": "Naa10⁻ᐟ⁺ (n=20)"}, {"x": 13.95, "y": 0.15, "g": "Naa10⁻ᐟ⁺ (n=20)"}, {"x": 13.95, "y": 0.29, "g": "Naa10⁻ᐟ⁺ (n=20)"}, {"x": 15.66, "y": 0.71, "g": "Naa10⁻ᐟ⁺ (n=20)"}, {"x": 16.0, "y": 0.98, "g": "Naa10⁻ᐟ⁺ (n=20)"}, {"x": 16.18, "y": 0.77, "g": "Naa10⁻ᐟ⁺ (n=20)"}, {"x": 16.8, "y": 0.835, "g": "Naa10⁻ᐟ⁺ (n=20)"}
  ],
  "CRfit": [
   {"x": 10.5, "y": 0.045, "g": "Naa10⁺ᐟ⁺ (n=22)"}, {"x": 11, "y": 0.058, "g": "Naa10⁺ᐟ⁺ (n=22)"}, {"x": 11.5, "y": 0.074, "g": "Naa10⁺ᐟ⁺ (n=22)"}, {"x": 12, "y": 0.095, "g": "Naa10⁺ᐟ⁺ (n=22)"}, {"x": 12.5, "y": 0.122, "g": "Naa10⁺ᐟ⁺ (n=22)"}, {"x": 13, "y": 0.156, "g": "Naa10⁺ᐟ⁺ (n=22)"}, {"x": 13.5, "y": 0.2, "g": "Naa10⁺ᐟ⁺ (n=22)"}, {"x": 14, "y": 0.257, "g": "Naa10⁺ᐟ⁺ (n=22)"}, {"x": 14.5, "y": 0.33, "g": "Naa10⁺ᐟ⁺ (n=22)"}, {"x": 15, "y": 0.423, "g": "Naa10⁺ᐟ⁺ (n=22)"}, {"x": 15.5, "y": 0.543, "g": "Naa10⁺ᐟ⁺ (n=22)"}, {"x": 16, "y": 0.697, "g": "Naa10⁺ᐟ⁺ (n=22)"}, {"x": 16.5, "y": 0.894, "g": "Naa10⁺ᐟ⁺ (n=22)"},
   {"x": 10.5, "y": 0.05, "g": "Naa10⁻ᐟ⁺ (n=20)"}, {"x": 11, "y": 0.064, "g": "Naa10⁻ᐟ⁺ (n=20)"}, {"x": 11.5, "y": 0.081, "g": "Naa10⁻ᐟ⁺ (n=20)"}, {"x": 12, "y": 0.103, "g": "Naa10⁻ᐟ⁺ (n=20)"}, {"x": 12.5, "y": 0.131, "g": "Naa10⁻ᐟ⁺ (n=20)"}, {"x": 13, "y": 0.167, "g": "Naa10⁻ᐟ⁺ (n=20)"}, {"x": 13.5, "y": 0.213, "g": "Naa10⁻ᐟ⁺ (n=20)"}, {"x": 14, "y": 0.271, "g": "Naa10⁻ᐟ⁺ (n=20)"}, {"x": 14.5, "y": 0.345, "g": "Naa10⁻ᐟ⁺ (n=20)"}, {"x": 15, "y": 0.439, "g": "Naa10⁻ᐟ⁺ (n=20)"}, {"x": 15.5, "y": 0.559, "g": "Naa10⁻ᐟ⁺ (n=20)"}, {"x": 16, "y": 0.711, "g": "Naa10⁻ᐟ⁺ (n=20)"}, {"x": 16.5, "y": 0.905, "g": "Naa10⁻ᐟ⁺ (n=20)"}
  ]
 }
}
